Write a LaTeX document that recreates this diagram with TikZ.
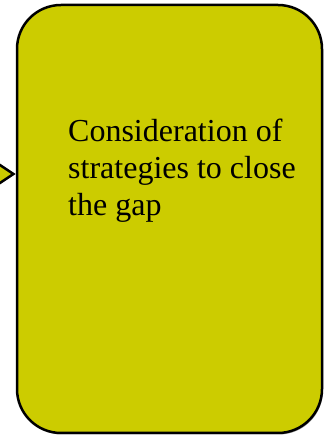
\documentclass[tikz,border=0pt]{standalone}
\usepackage{fontspec}
\setmainfont{Liberation Serif}
\usetikzlibrary{shapes,arrows.meta,shadows,positioning}
\definecolor{gapolive}{HTML}{CCCC00}
\tikzstyle{box1}=[rectangle, draw=black, line width=2.5pt, rounded corners=44pt, fill=gapolive,
        drop shadow={shadow xshift=1pt, shadow yshift=-1.5pt, opacity=.7},
        minimum width=305pt, minimum height=428pt]
\tikzstyle{label1}=[text width=240pt, align=flush left, inner sep=0pt, font=\fontsize{32}{37}\selectfont]
\tikzstyle{link1}=[draw=black, line width=2.5pt, -{Triangle[length=20pt,width=26pt,fill=gapolive]}]

\begin{document}
\begin{tikzpicture}[x=1pt,y=1pt]
\useasboundingbox (0,0) rectangle (324,438);
\node [box1] (gap) at (169.5,219) {};
\node [label1, anchor=base west] (gaptext) at (68,296) {Consideration of strategies to close the gap};
\coordinate (in) at (-4,264);
\draw [link1] (in) -- (in -| gap.west);
\end{tikzpicture}
\end{document}
